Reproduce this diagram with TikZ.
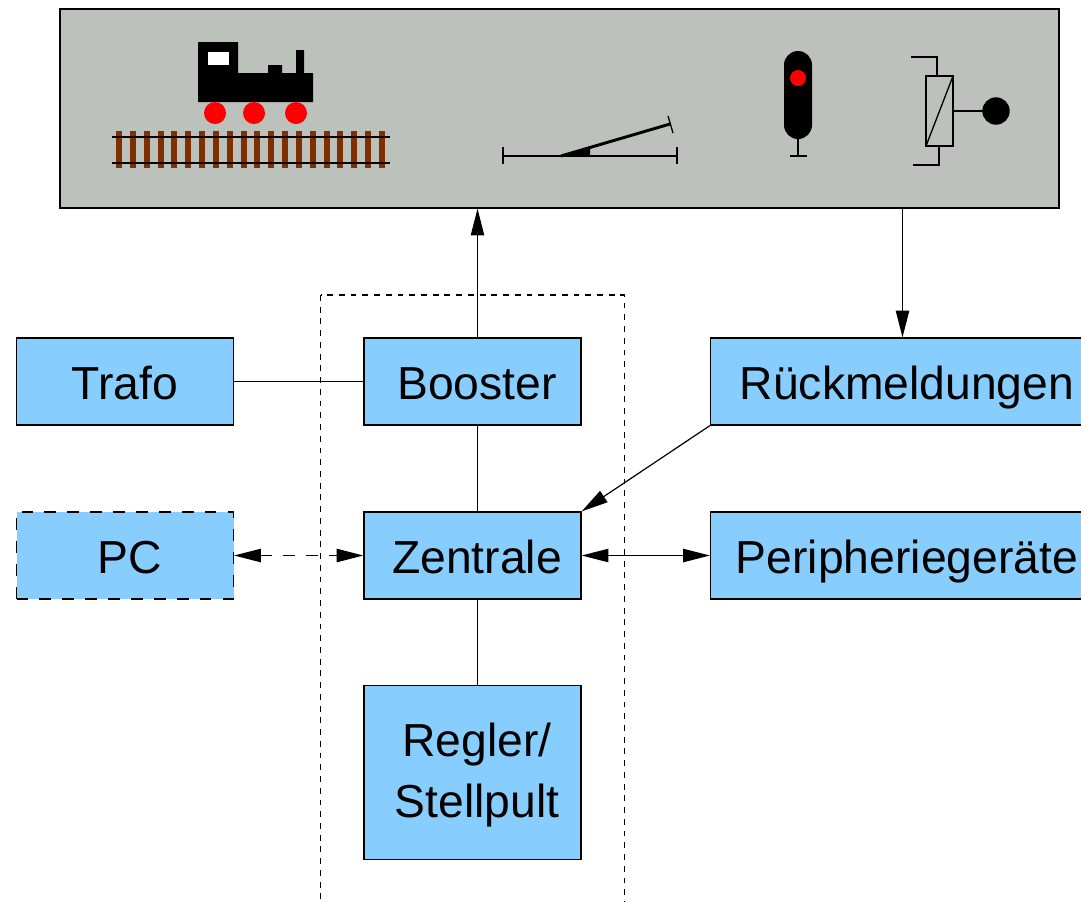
\documentclass[tikz,border=0pt]{standalone}
\usepackage{fontspec}
\setmainfont{Liberation Sans}
\usetikzlibrary{arrows.meta}

\definecolor{panelgrey}{RGB}{189,193,187}
\definecolor{blockblue}{RGB}{135,206,255}
\definecolor{sleeperbrown}{RGB}{128,48,0}

\tikzset{
  every picture/.style={line width=1pt},
  blockbox/.style={draw,fill=blockblue,minimum width=162.75pt,minimum height=65.25pt,inner sep=0pt,
    text height=27pt,text depth=0pt,font=\fontsize{34.7}{46}\selectfont},
  wire/.style={line width=0.9pt},
  tip/.style={-{Triangle[length=20pt,width=10pt]}},
  twotips/.style={{Triangle[length=20pt,width=10pt]}-{Triangle[length=20pt,width=10pt]}},
}
% text sits a little right of the box centre
\newcommand{\tx}[1]{\hspace*{6.75pt}#1}

\begin{document}
\begin{tikzpicture}[x=0.75pt,y=0.75pt,yscale=-1,xscale=1]
\clip (0,0) rectangle (1081,901);

% layout panel
\node (panel) [draw,fill=panelgrey,minimum width=749.25pt,minimum height=149.25pt,inner sep=0pt] at (559.5,108.5) {};

% locomotive
\fill (198,42) -- (238,42) -- (238,73) -- (268,73) -- (268,65) -- (282,65) -- (282,73) -- (296,73) -- (296,50) -- (304,50) -- (304,73) -- (313,73) -- (313,102) -- (198,102) -- cycle;
\fill [white] (208,52) rectangle (229,65);
\foreach \wx in {215,254,296}
  \fill [red] (\wx,113) circle (11);
% track
\foreach \sx in {0,...,19}
  \fill [sleeperbrown] (116+\sx*13.84,131) rectangle (122+\sx*13.84,168);
\draw (112,137) -- (390,137);
\draw (112,163) -- (390,163);

% turnout
\draw [line width=2.2pt] (503,156) -- (677,156);
\draw (503,147) -- (503,164);
\draw (677,147) -- (677,164);
\draw [line width=2.2pt] (561,156) -- (670,124);
\draw (668,116) -- (673,133);
\fill (561,156) -- (590,147) -- (590,156) -- cycle;

% signal
\fill [rounded corners=10.5pt] (784,51) rectangle (812,139);
\fill [red] (798,78) circle (8);
\draw [line width=2.2pt] (798,139) -- (798,156);
\draw [line width=2.2pt] (790,156) -- (807,156);

% feedback contact
\draw (926,76) rectangle (953,146);
\draw (926,146) -- (953,76);
\draw (911,57) -- (937,57) -- (937,76);
\draw (913,165) -- (939,165) -- (939,146);
\draw (953,111) -- (983,111);
\fill (996,111) circle (13.7);

% command station group
\draw [dash pattern=on 4.4pt off 4.4pt,line width=0.8pt] (320.6,295) rectangle (624.6,930);

% blocks
\node (trafo) [blockbox] at (125,381.5) {Trafo};
\node (booster) [blockbox] at (472.5,381.5) {\tx{Booster}};
\node (rueck) [blockbox,minimum width=288pt] at (902.5,381.5) {\tx{Rückmeldungen}};
\node (pc) [blockbox,dash pattern=on 8.6pt off 8.6pt] at (125,555.5) {\tx{PC}};
\node (zentrale) [blockbox] at (472.5,555.5) {\tx{Zentrale}};
\node (peri) [blockbox,minimum width=288pt] at (902.5,555.5) {\tx{Peripheriegeräte}};
\node (regler) [blockbox,text height=,text depth=,minimum height=130.5pt,align=center] at (472.5,772.5) {\tx{\rule{0pt}{28.5pt}Regler/}\\\tx{Stellpult}};

% connectors
\coordinate (bus) at (477.5,0);
\draw [wire,tip] (booster.north -| bus) -- (panel.south -| bus);
\draw [wire,tip] (panel.south -| rueck.north) -- (rueck.north);
\draw [wire] (trafo) -- (booster);
\draw [wire] (booster.south -| bus) -- (zentrale.north -| bus);
\draw [wire] (zentrale.south -| bus) -- (regler.north -| bus);
\draw [wire,tip] (rueck.south west) -- (zentrale.north east);
\draw [wire,twotips,dash pattern=on 8.6pt off 8.6pt] (pc) -- (zentrale);
\draw [wire,twotips] (zentrale) -- (peri);

\end{tikzpicture}
\end{document}
